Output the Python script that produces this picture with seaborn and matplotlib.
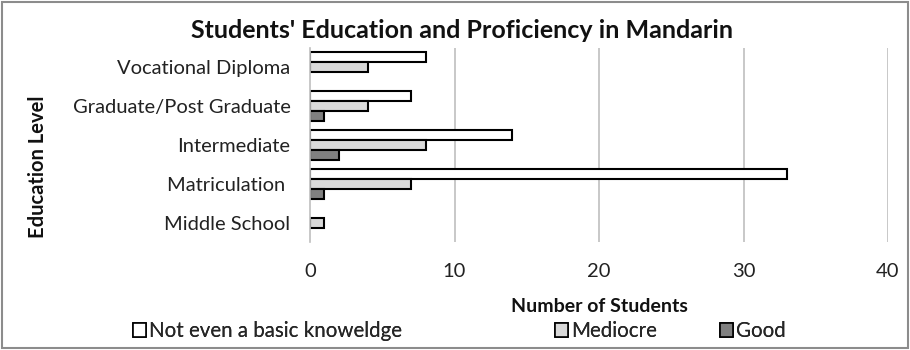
import matplotlib
matplotlib.use("Agg")
import matplotlib.pyplot as plt
from matplotlib.patches import Patch, Rectangle
import seaborn as sns
import pandas as pd

# Education levels (top to bottom) and proficiency groups
levels = ["Vocational Diploma", "Graduate/Post Graduate", "Intermediate",
          "Matriculation ", "Middle School"]
proficiency = ["Not even a basic knoweldge", "Mediocre", "Good"]

not_basic = [8, 7, 14, 33, 0]
mediocre = [4, 4, 8, 7, 1]
good = [0, 1, 2, 1, 0]

x_ticks = [0, 10, 20, 30, 40]
colors = ["#ffffff", "#d9d9d9", "#808080"]

df = pd.DataFrame({
    "level": levels * 3,
    "group": [proficiency[0]] * 5 + [proficiency[1]] * 5 + [proficiency[2]] * 5,
    "count": not_basic + mediocre + good,
})

sns.set_theme(style="white")
plt.rcParams["font.family"] = ["Lato", "DejaVu Sans"]

fig = plt.figure(figsize=(9.1, 3.5), dpi=100)
W, H = 910, 350
ax = fig.add_axes([310 / W, 1 - 242 / H, (888 - 310) / W, (242 - 48) / H])

sns.barplot(data=df, y="level", x="count", hue="group", order=levels,
            hue_order=proficiency, palette=colors, orient="h", width=0.77,
            edgecolor="black", linewidth=1.5, saturation=1, ax=ax, legend=False)

# empty bars should not leave an outline at zero
for p in ax.patches:
    if p.get_width() == 0:
        p.set_linewidth(0)

ax.set_xlim(0, 40)
ax.set_xticks(x_ticks)
ax.set_xticklabels([str(t) for t in x_ticks], fontsize=14.5, color="#222222")
ax.tick_params(axis="x", length=0, pad=15)
ax.tick_params(axis="y", length=0, pad=14, labelsize=14.5, labelcolor="#222222")
ax.set_xlabel("")
ax.set_ylabel("")
for t in x_ticks[1:]:
    ax.axvline(t, color="#bfbfbf", linewidth=1.2, zorder=0)
for s in ["top", "right", "bottom"]:
    ax.spines[s].set_visible(False)
ax.spines["left"].set_color("#bfbfbf")
ax.spines["left"].set_linewidth(1.2)

fig.text(462 / W, 1 - 30 / H, "Students' Education and Proficiency in Mandarin",
         ha="center", va="center", fontsize=18, fontweight="bold", color="#111111")
fig.text(599 / W, 1 - 306 / H, "Number of Students", ha="center", va="center",
         fontsize=14, fontweight="bold", color="#111111")
fig.text(38 / W, 1 - 167 / H, "Education Level", ha="center", va="center",
         rotation=90, fontsize=14.5, fontweight="bold", color="#111111")

# legend entries placed individually along the bottom
legend_x = [133, 555, 720]
for name, col, lx in zip(proficiency, colors, legend_x):
    leg = fig.legend(handles=[Patch(facecolor=col, edgecolor="black", linewidth=1.2)],
                     labels=[name], loc="center left",
                     bbox_to_anchor=(lx / W, 1 - 331 / H), frameon=False,
                     handlelength=0.65, handleheight=0.65, handletextpad=0.15,
                     borderpad=0, borderaxespad=0, fontsize=14.8)
    fig.add_artist(leg)

fig.add_artist(Rectangle((2 / W, 2 / H), (W - 4) / W, (H - 4) / H,
                         transform=fig.transFigure, fill=False,
                         edgecolor="#8c8c8c", linewidth=1.5))

fig.savefig("out.png", dpi=100)
